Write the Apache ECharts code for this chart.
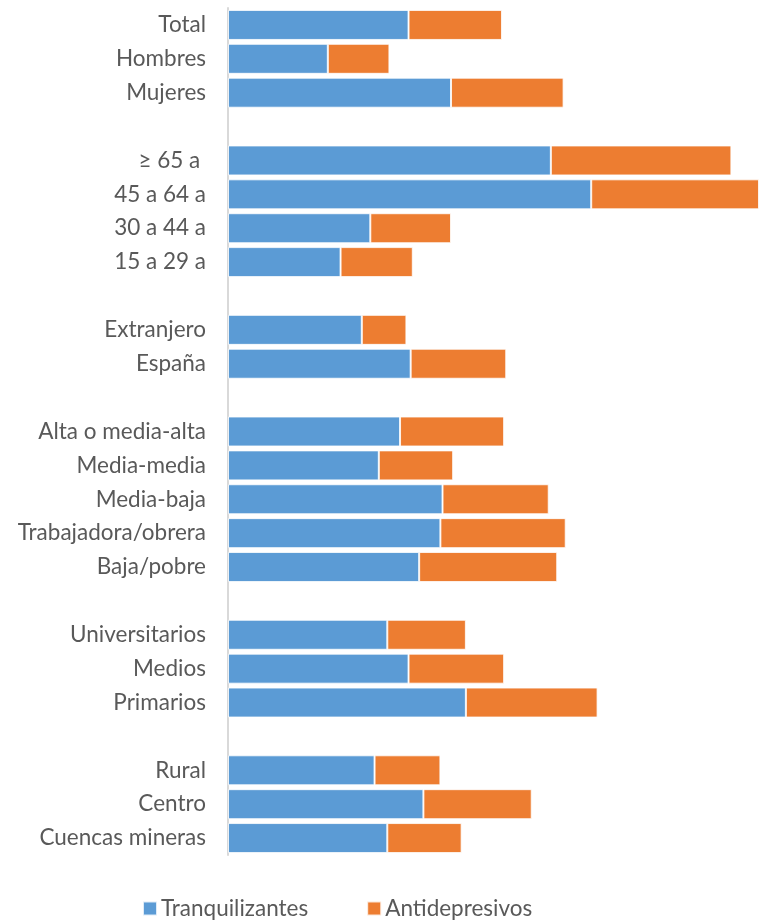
<!DOCTYPE html>
<html>
<head>
<meta charset="utf-8">
<script src="https://cdn.jsdelivr.net/npm/echarts@6/dist/echarts.min.js"></script>
<style>
  html, body { margin: 0; padding: 0; background: #fff; }
  #chart { width: 759px; height: 922px; }
</style>
</head>
<body>
<div id="chart"></div>
<script>
// Group rows; blank entries (distinct whitespace) separate the groups
const categories = [
  'Total', 'Hombres', 'Mujeres', ' ',
  '≥ 65 a ', '45 a 64 a', '30 a 44 a', '15 a 29 a', '  ',
  'Extranjero', 'España', '   ',
  'Alta o media-alta', 'Media-media', 'Media-baja', 'Trabajadora/obrera', 'Baja/pobre', '    ',
  'Universitarios', 'Medios', 'Primarios', '     ',
  'Rural', 'Centro', 'Cuencas mineras'
];

const tranquilizantes = [
  8.5, 4.7, 10.5, null,
  15.2, 17.1, 6.7, 5.3, null,
  6.3, 8.6, null,
  8.1, 7.1, 10.1, 10.0, 9.0, null,
  7.5, 8.5, 11.2, null,
  6.9, 9.2, 7.5
];

const antidepresivos = [
  4.4, 2.9, 5.3, null,
  8.5, 7.9, 3.8, 3.4, null,
  2.1, 4.5, null,
  4.9, 3.5, 5.0, 5.9, 6.5, null,
  3.7, 4.5, 6.2, null,
  3.1, 5.1, 3.5
];

const seriesNames = ['Tranquilizantes', 'Antidepresivos'];
const xMax = 25;

const chart = echarts.init(document.getElementById('chart'));
const font = 'Lato, "Open Sans", sans-serif';

chart.setOption({
  animation: false,
  color: ['#5B9BD5', '#ED7D31'],
  grid: { left: 228, right: 0, top: 8, bottom: 67, containLabel: false },
  legend: {
    data: seriesNames,
    left: 142,
    top: 897,
    padding: 0,
    itemWidth: 14,
    itemHeight: 14,
    itemGap: 58,
    icon: 'rect',
    textStyle: { color: '#595959', fontSize: 22.5, fontFamily: font, padding: [0, 0, 0, -1] }
  },
  xAxis: {
    type: 'value',
    min: 0,
    max: xMax,
    show: false
  },
  yAxis: {
    type: 'category',
    data: categories,
    inverse: true,
    axisLine: { show: true, lineStyle: { color: '#d9d9d9', width: 2 } },
    axisTick: { show: false },
    axisLabel: { color: '#595959', fontSize: 22.5, fontFamily: font, margin: 22 },
    splitLine: { show: false }
  },
  series: [
    {
      name: seriesNames[0],
      type: 'bar',
      stack: 'total',
      data: tranquilizantes,
      barWidth: 30,
      itemStyle: { borderColor: 'rgba(255,255,255,0.8)', borderWidth: 1 }
    },
    {
      name: seriesNames[1],
      type: 'bar',
      stack: 'total',
      data: antidepresivos,
      barWidth: 30,
      itemStyle: { borderColor: 'rgba(255,255,255,0.8)', borderWidth: 1 }
    }
  ]
});
</script>
</body>
</html>
